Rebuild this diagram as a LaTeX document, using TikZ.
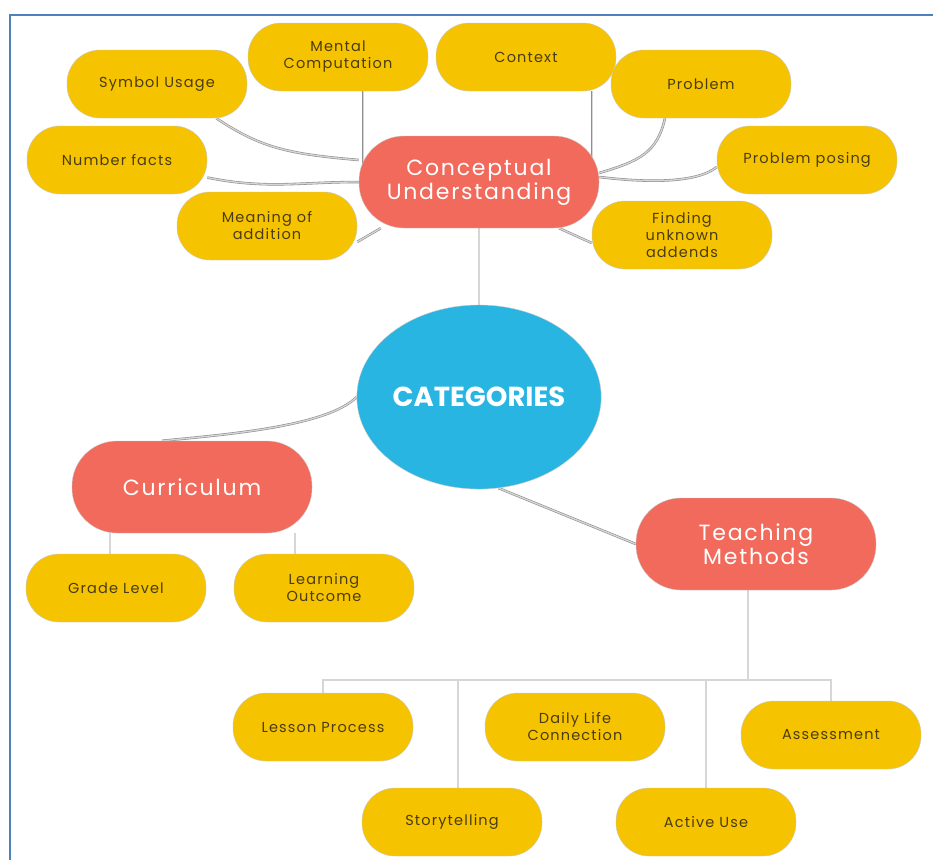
\documentclass[tikz,border=0pt]{standalone}
\usepackage{fontspec}
\setmainfont{Poppins}
\newfontfamily\widefont[LetterSpace=8]{Poppins}
\usetikzlibrary{shapes.geometric,backgrounds}

\definecolor{leafyellow}{HTML}{F6C300}
\definecolor{leaftext}{HTML}{4A3C12}
\definecolor{branchred}{HTML}{F16A5B}
\definecolor{hubblue}{HTML}{28B5E1}
\definecolor{frameblue}{HTML}{4F81BD}
\definecolor{linkgrey}{HTML}{8E8E8E}

\begin{document}
\begin{tikzpicture}[x=1pt,y=-1pt,
    leaf/.style={rectangle,rounded corners=33pt,draw=black!22,fill=leafyellow,
      text=leaftext,minimum width=180pt,minimum height=68pt,align=center,
      font=\widefont\fontsize{14.5}{17}\selectfont},
    branch/.style={rectangle,rounded corners=45pt,draw=black!22,fill=branchred,
      text=white,minimum width=240pt,minimum height=92pt,align=center,
      font=\widefont\fontsize{22}{24}\selectfont},
    hub/.style={ellipse,draw=black!22,fill=hubblue,text=white,inner sep=0pt,
      minimum width=240pt,minimum height=184pt,
      font=\bfseries\fontsize{27.5}{30}\selectfont},
    link/.style={draw=linkgrey,line width=0.6pt,double=black!16,double distance=1.3pt}]

  \useasboundingbox (0,0) rectangle (933,860);
  \draw[frameblue,line width=1.5pt] (10,860) -- (10,15) -- (933,15);

  % centre and the three branches
  \node[hub] (cat) at (479,397) {CATEGORIES};
  \node[branch] (cu) at (479,182) {Conceptual\\Understanding};
  \node[branch] (curr) at (192,487) {Curriculum};
  \node[branch] (teach) at (756,544) {Teaching\\Methods};

  % conceptual understanding
  \node[leaf] (symbol)  at (157,84)  {Symbol Usage};
  \node[leaf] (mental)  at (338,57)  {Mental\\Computation};
  \node[leaf] (number)  at (117,160) {Number facts};
  \node[leaf] (meaning) at (267,226) {Meaning of\\addition};
  \node[leaf] (context) at (526,57)  {Context};
  \node[leaf] (problem) at (701,84)  {Problem};
  \node[leaf] (posing)  at (807,160) {Problem posing};
  \node[leaf] (finding) at (682,235) {Finding\\unknown\\addends};

  % curriculum
  \node[leaf] (grade)   at (116,588) {Grade Level};
  \node[leaf] (outcome) at (324,588) {Learning\\Outcome};

  % teaching methods
  \node[leaf] (lesson) at (323,727) {Lesson Process};
  \node[leaf] (daily)  at (575,727) {Daily Life\\Connection};
  \node[leaf] (assess) at (831,735) {Assessment};
  \node[leaf] (story)  at (452,822) {Storytelling};
  \node[leaf] (active) at (706,822) {Active Use};

  \begin{scope}[on background layer]
    \draw[link] (cu) -- (cat);
    \draw[link] ([xshift=-65pt]mental.south east) -- ([xshift=-65pt]mental.south east |- cu.west);
    \draw[link] ([xshift=-24pt]context.south east) -- ([xshift=-24pt]context.south east |- cu.east);
    \draw[link] (meaning.-10) -- ([xshift=22pt]cu.south west);
    \draw[link] ([yshift=-8pt]finding.west) -- (cu.-30);
    \draw[link] (cat.-78) -- (teach.west);
    \draw[link] (symbol.-30) .. controls +(45,30) and +(-70,-6) .. ([yshift=22pt]cu.west);
    \draw[link] (number.-11) .. controls +(60,12) and +(-60,0) .. (cu.west);
    \draw[link] ([xshift=-36pt]problem.south) .. controls +(-8,35) and +(40,-12) .. ([yshift=9pt]cu.east);
    \draw[link] ([yshift=-7pt]posing.west) .. controls +(-20,16) and +(50,6) .. ([yshift=5pt]cu.east);
    \draw[link] (cat.west) .. controls +(-30,30) and +(60,-6) .. ([xshift=-30pt]curr.north);

    \draw[link] ([xshift=-6pt]grade.north) -- ([xshift=-6pt]grade.north |- curr.south);
    \draw[link] ([xshift=-29pt]outcome.north) -- ([xshift=-29pt]outcome.north |- curr.south);

    % bus under teaching methods
    \coordinate (bus) at ([xshift=-8pt]teach.south |- 0,680);
    \draw[link] ([xshift=-8pt]teach.south) -- (bus);
    \draw[link] (lesson.north) |- (assess.north |- bus) -- (assess.north);
    \draw[link] ([xshift=6pt]story.north) -- ([xshift=6pt]story.north |- bus);
    \draw[link] (active.north) -- (active.north |- bus);
  \end{scope}
\end{tikzpicture}
\end{document}
